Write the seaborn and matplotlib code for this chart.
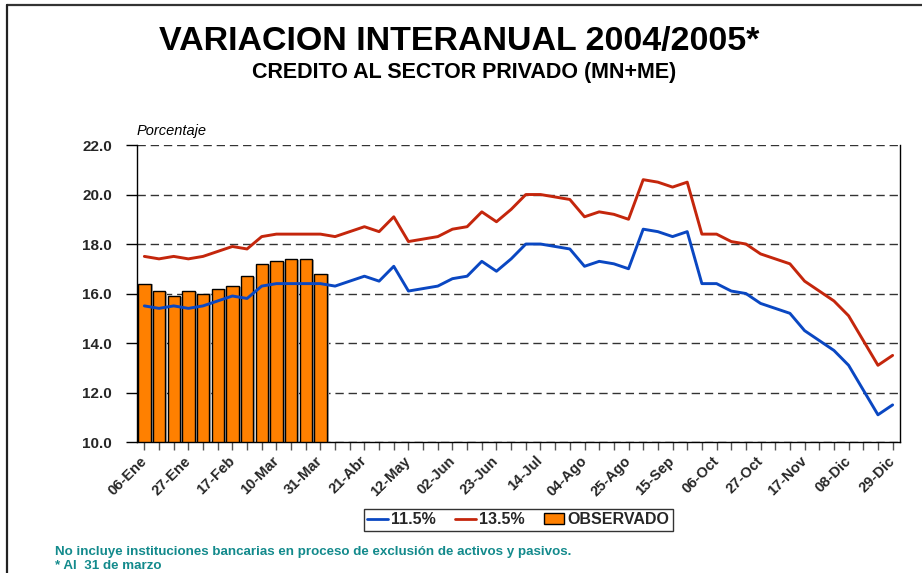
import numpy as np
import pandas as pd
import matplotlib
matplotlib.use("Agg")
import matplotlib.pyplot as plt
import matplotlib.patheffects as pe
from matplotlib.lines import Line2D
from matplotlib.patches import Patch
import seaborn as sns

# Weekly year-on-year growth of private-sector credit (percent)
tick_labels = ["06-Ene", "27-Ene", "17-Feb", "10-Mar", "31-Mar", "21-Abr",
               "12-May", "02-Jun", "23-Jun", "14-Jul", "04-Ago", "25-Ago",
               "15-Sep", "06-Oct", "27-Oct", "17-Nov", "08-Dic", "29-Dic"]

escenario_115 = [15.5, 15.4, 15.5, 15.4, 15.5, 15.7, 15.9, 15.8, 16.3, 16.4,
                 16.4, 16.4, 16.4, 16.3, 16.5, 16.7, 16.5, 17.1, 16.1, 16.2,
                 16.3, 16.6, 16.7, 17.3, 16.9, 17.4, 18.0, 18.0, 17.9, 17.8,
                 17.1, 17.3, 17.2, 17.0, 18.6, 18.5, 18.3, 18.5, 16.4, 16.4,
                 16.1, 16.0, 15.6, 15.4, 15.2, 14.5, 14.1, 13.7, 13.1, 12.1,
                 11.1, 11.5]

escenario_135 = [17.5, 17.4, 17.5, 17.4, 17.5, 17.7, 17.9, 17.8, 18.3, 18.4,
                 18.4, 18.4, 18.4, 18.3, 18.5, 18.7, 18.5, 19.1, 18.1, 18.2,
                 18.3, 18.6, 18.7, 19.3, 18.9, 19.4, 20.0, 20.0, 19.9, 19.8,
                 19.1, 19.3, 19.2, 19.0, 20.6, 20.5, 20.3, 20.5, 18.4, 18.4,
                 18.1, 18.0, 17.6, 17.4, 17.2, 16.5, 16.1, 15.7, 15.1, 14.1,
                 13.1, 13.5]

observado = [16.4, 16.1, 15.9, 16.1, 16.0, 16.2, 16.3, 16.7, 17.2, 17.3,
             17.4, 17.4, 16.8]

TICK_STEP = 3  # one labelled tick every three weeks

AZUL = "#0a47c2"
ROJO = "#c4260c"
NARANJA = "#ff8000"
TEAL = "#138a8c"

sns.set_theme(style="white")
plt.rcParams["font.family"] = ["Liberation Sans", "DejaVu Sans"]

n = len(escenario_115)
lineas = pd.DataFrame({"pos": np.arange(n),
                       "p115": escenario_115,
                       "p135": escenario_135})
barras = pd.DataFrame({"pos": np.arange(len(observado)),
                       "obs": observado})

fig = plt.figure(figsize=(9.22, 5.73), dpi=100)
ax = fig.add_axes([0.1486, 0.2286, 0.8275, 0.5183])

sns.barplot(data=barras, x="pos", y="obs", native_scale=True, width=0.84,
            color=NARANJA, saturation=1, edgecolor="black", linewidth=1.0,
            ax=ax, zorder=2)
for bar in ax.patches:
    bar.set_path_effects([pe.SimplePatchShadow(offset=(1.5, -0.5),
                                               shadow_rgbFace="#b0b0b0",
                                               alpha=1.0),
                          pe.Normal()])

sns.lineplot(data=lineas, x="pos", y="p115", color=AZUL, linewidth=2.1,
             ax=ax, zorder=3)
sns.lineplot(data=lineas, x="pos", y="p135", color=ROJO, linewidth=2.1,
             ax=ax, zorder=3)

ax.set_xlim(-0.5, n - 0.5)
ax.set_ylim(10, 22)
ax.set_xlabel("")
ax.set_ylabel("")

# y axis
yt = np.arange(10, 22.01, 2)
ax.set_yticks(yt)
ax.set_yticklabels([f"{v:.1f}" for v in yt], fontsize=11, fontweight="bold")
ax.tick_params(axis="y", direction="out", length=8, width=1, color="black",
               pad=10, left=True)
ax.yaxis.grid(True, linestyle=(0, (6, 3.5)), color="#333333", linewidth=1.0)
ax.xaxis.grid(False)
ax.set_axisbelow(True)

# x axis
ax.set_xticks(np.arange(0, n, TICK_STEP))
ax.set_xticks(np.arange(n), minor=True)
ax.set_xticklabels(tick_labels, rotation=45, ha="right", va="center",
                   rotation_mode="anchor", fontsize=10.5, fontweight="bold")
ax.tick_params(axis="x", which="both", direction="out", length=6, width=1,
               color="#555555", bottom=True, pad=6)

for side in ("left", "bottom", "right"):
    ax.spines[side].set_visible(True)
    ax.spines[side].set_color("black")
    ax.spines[side].set_linewidth(1.0)
ax.spines["top"].set_visible(False)

# titles
fig.text(0.498, 0.927, "VARIACION INTERANUAL 2004/2005*", ha="center",
         va="center", fontsize=24.5, fontweight="bold", color="black")
fig.text(0.503, 0.873, "CREDITO AL SECTOR PRIVADO (MN+ME)", ha="center",
         va="center", fontsize=15.5, fontweight="bold", color="black")
fig.text(0.1486, 0.771, "Porcentaje", ha="left", va="center", fontsize=10.5,
         style="italic", color="black")

# legend
handles = [Line2D([], [], color=AZUL, linewidth=2.0),
           Line2D([], [], color=ROJO, linewidth=2.0),
           Patch(facecolor=NARANJA, edgecolor="black", linewidth=1.0)]
leg = fig.legend(handles, ["11.5%", "13.5%", "OBSERVADO"], ncol=3,
                 loc="center", bbox_to_anchor=(0.562, 0.0925),
                 frameon=True, fancybox=False, shadow=False,
                 prop={"weight": "bold", "size": 11.5},
                 handlelength=1.3, handletextpad=0.2, columnspacing=1.2,
                 borderpad=0.2, borderaxespad=0)
leg.get_frame().set_edgecolor("black")
leg.get_frame().set_linewidth(1.0)

# notes
fig.text(0.06, 0.036, "No incluye instituciones bancarias en proceso de "
         "exclusión de activos y pasivos.", ha="left", va="center",
         fontsize=9.6, fontweight="bold", color=TEAL)
fig.text(0.06, 0.013, "* Al  31 de marzo", ha="left", va="center",
         fontsize=9.6, fontweight="bold", color=TEAL)

# page frame
fig.add_artist(Line2D([0.008, 1.0], [0.992, 0.992], color="#333333",
                      linewidth=1.6, transform=fig.transFigure))
fig.add_artist(Line2D([0.008, 0.008], [0.0, 0.992], color="#222222",
                      linewidth=1.6, transform=fig.transFigure))

fig.savefig("out.png", dpi=100, facecolor="white")
